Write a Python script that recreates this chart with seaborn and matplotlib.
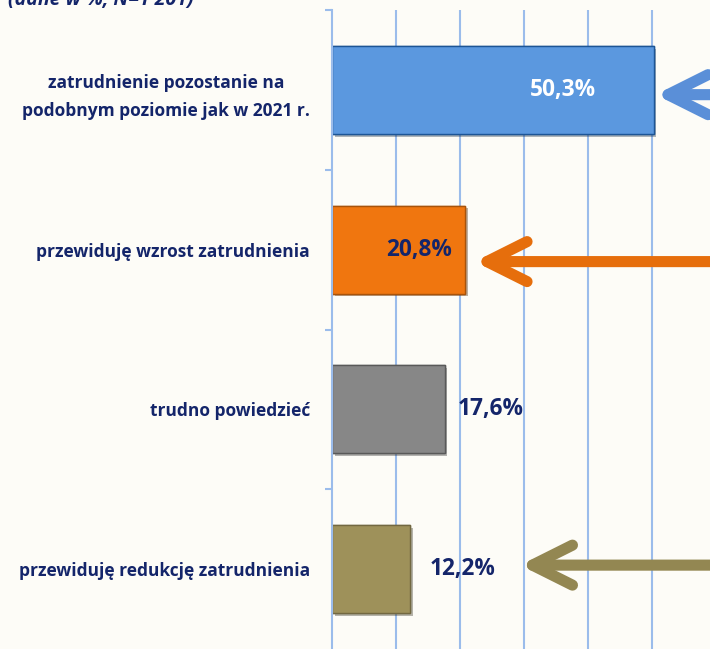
import matplotlib
matplotlib.use("Agg")
import matplotlib.pyplot as plt
import matplotlib.patheffects as pe
import pandas as pd
import seaborn as sns

# ------------------------------------------
# Data
# ------------------------------------------
categories = [
    "zatrudnienie pozostanie na\npodobnym poziomie jak w 2021 r.",
    "przewiduję wzrost zatrudnienia",
    "trudno powiedzieć",
    "przewiduję redukcję zatrudnienia",
]
values = [50.3, 20.8, 17.6, 12.2]
value_labels = ["50,3%", "20,8%", "17,6%", "12,2%"]
bar_colors = ["#5B98DF", "#F0760F", "#878787", "#9E915A"]
label_colors = ["white", "#14256A", "#14256A", "#14256A"]
# label anchor relative to bar end (in %), negative = inside bar
label_offsets = [-9.0, -2.0, 2.0, 3.0]

# arrows: row, tip x in %, vertical shift, colour
arrow_rows = [0, 1, 3]
arrow_tips = [50.6, 22.3, 29.4]
arrow_dy = [0.03, 0.075, -0.025]
arrow_colors = ["#5A8FD8", "#E66E0C", "#938752"]

title = "(dane w %, N=1 201)"
navy = "#14256A"
bg = "#FDFCF7"
grid_col = "#9BBCEB"

df = pd.DataFrame({"kat": categories, "val": values})

# ------------------------------------------
# Plot
# ------------------------------------------
sns.set_theme(style="white")
plt.rcParams["font.family"] = ["Open Sans", "DejaVu Sans"]

fig = plt.figure(figsize=(7.10, 6.49), dpi=100, facecolor=bg)
ax = fig.add_axes([332 / 710, 0, 1 - 332 / 710, 639 / 649])
ax.set_facecolor(bg)

sns.barplot(data=df, x="val", y="kat", hue="kat", palette=bar_colors,
            orient="h", width=0.55, legend=False, ax=ax, saturation=1)

for p, c in zip(ax.patches, bar_colors):
    p.set_edgecolor(sns.set_hls_values(c, l=0.35))
    p.set_linewidth(1.0)
    p.set_path_effects([pe.withSimplePatchShadow(offset=(2, -2), alpha=0.35), pe.Normal()])

ax.set_xlim(0, 59.1)
ax.set_ylim(3.5, -0.5)
ax.set_xticks(range(10, 60, 10))
ax.xaxis.grid(True, color=grid_col, lw=1.5)
ax.set_axisbelow(True)
ax.set_xticklabels([])
ax.tick_params(axis="x", length=0)
ax.set_xlabel("")
ax.set_ylabel("")

for s in ["top", "right", "bottom"]:
    ax.spines[s].set_visible(False)
ax.spines["left"].set_color(grid_col)
ax.spines["left"].set_linewidth(1.5)

ax.set_yticks([-0.5, 0.5, 1.5, 2.5], minor=True)
ax.tick_params(axis="y", which="minor", length=5, width=1.5, color=grid_col, left=True)
ax.tick_params(axis="y", which="major", length=0, pad=16)
for t in ax.get_yticklabels():
    t.set_fontsize(12.5)
    t.set_fontweight("bold")
    t.set_color(navy)
    t.set_multialignment("center")
    t.set_linespacing(1.7)

# value labels
for i, (v, lab) in enumerate(zip(values, value_labels)):
    ha = "right" if label_offsets[i] < 0 else "left"
    ax.text(v + label_offsets[i], i, lab, ha=ha, va="center", fontsize=16.3,
            fontweight="bold", color=label_colors[i])

# arrows pointing at bars
for r, tip, dy, c in zip(arrow_rows, arrow_tips, arrow_dy, arrow_colors):
    ax.annotate("", xy=(tip, r + dy), xytext=(62, r + dy),
                arrowprops=dict(arrowstyle="->,head_length=2.4,head_width=1.2",
                                lw=8, color=c, capstyle="round",
                                joinstyle="round", shrinkA=0, shrinkB=0),
                annotation_clip=False)

fig.text(8 / 710, 1.0, title, ha="left", va="center", fontsize=14,
         fontweight="bold", fontstyle="italic", color=navy)

fig.savefig("out.png", dpi=100, facecolor=bg)
